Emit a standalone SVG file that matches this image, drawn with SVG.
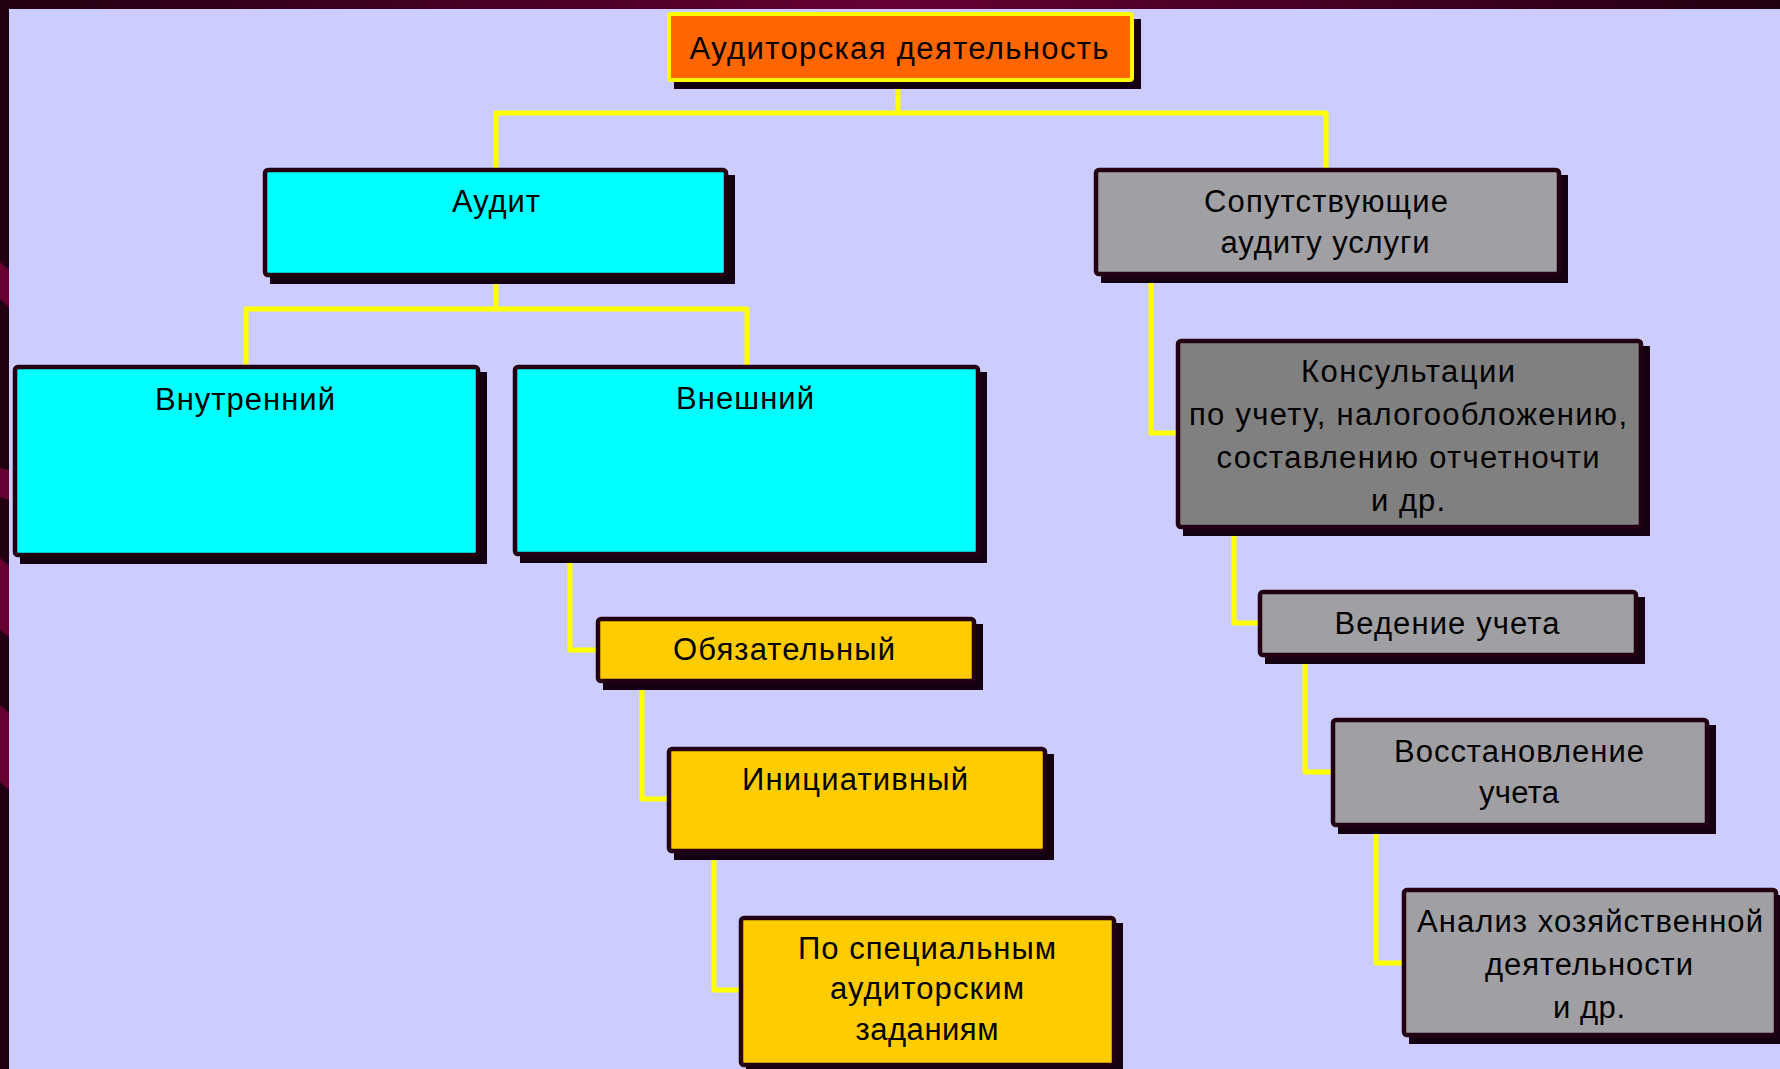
<svg xmlns="http://www.w3.org/2000/svg" width="1780" height="1069" viewBox="0 0 1780 1069">
<defs>
<linearGradient id="topbar" x1="0" y1="0" x2="1" y2="0">
<stop offset="0" stop-color="#220011"/>
<stop offset="0.5" stop-color="#660033"/>
<stop offset="1" stop-color="#220011"/>
</linearGradient>
<style>
.bg{fill:#CCCCFF}
.sh{fill:#140010}
.box{stroke:#220011;stroke-width:4.5;stroke-linejoin:round}
.cyan{fill:#00FFFF}
.gold{fill:#FFCC00}
.gray{fill:#A0A0A4}
.dgray{fill:#808080}
.top{fill:#FF6600;stroke:#FFFF00;stroke-width:4}
.conn{fill:none;stroke:#FFFF00;stroke-width:5;stroke-linejoin:round}
text{font-family:"Liberation Sans Narrow","Liberation Sans",Arial,sans-serif;font-size:31px;fill:#000;text-anchor:middle}
</style>
</defs>
<rect x="0" y="0" width="1780" height="1069" class="bg"/>
<rect x="0" y="0" width="1780" height="9" fill="url(#topbar)"/>
<rect x="0" y="0" width="9" height="1069" fill="#220011"/>
<polygon points="0,262 9,270 9,307 0,299" fill="#660033"/>
<polygon points="0,468 9,470 9,500 0,497" fill="#660033"/>
<polygon points="0,558 9,566 9,637 0,630" fill="#660033"/>
<polygon points="0,705 9,713 9,790 0,782" fill="#660033"/>

<g id="connectors">
<path class="conn" d="M898,88 V113 M496,168 V113 H1326 V168"/>
<path class="conn" d="M496,284 V309 M246,365 V309 H747 V365"/>
<path class="conn" d="M570,556 V650 H596"/>
<path class="conn" d="M642,683 V799 H667"/>
<path class="conn" d="M714,853 V990 H739"/>
<path class="conn" d="M1151,276 V433 H1176"/>
<path class="conn" d="M1234,529 V623 H1258"/>
<path class="conn" d="M1305,657 V772 H1331"/>
<path class="conn" d="M1376,827 V963 H1402"/>
</g>

<g id="node-top">
<rect class="sh" x="674" y="19" width="467" height="70"/>
<rect class="top" x="669" y="14" width="463" height="66" rx="2"/>
<text x="899" y="59" textLength="419">Аудиторская деятельность</text>
</g>

<g id="node-audit">
<rect class="sh" x="270" y="175" width="465" height="109"/>
<rect class="box cyan" x="265" y="170" width="461" height="105" rx="3"/>
<text x="496" y="212" textLength="88">Аудит</text>
</g>

<g id="node-related">
<rect class="sh" x="1101" y="175" width="467" height="108"/>
<rect class="box gray" x="1096" y="170" width="463" height="104" rx="3"/>
<text x="1326" y="212" textLength="244">Сопутствующие</text>
<text x="1325" y="253" textLength="209">аудиту услуги</text>
</g>

<g id="node-internal">
<rect class="sh" x="20" y="372" width="467" height="192"/>
<rect class="box cyan" x="15" y="367" width="463" height="188" rx="3"/>
<text x="245" y="410" textLength="180">Внутренний</text>
</g>

<g id="node-external">
<rect class="sh" x="520" y="372" width="467" height="191"/>
<rect class="box cyan" x="515" y="367" width="463" height="187" rx="3"/>
<text x="745" y="409" textLength="138">Внешний</text>
</g>

<g id="node-mandatory">
<rect class="sh" x="603" y="624" width="380" height="66"/>
<rect class="box gold" x="598" y="619" width="376" height="62" rx="3"/>
<text x="784" y="660" textLength="222">Обязательный</text>
</g>

<g id="node-initiative">
<rect class="sh" x="674" y="754" width="380" height="106"/>
<rect class="box gold" x="669" y="749" width="376" height="102" rx="3"/>
<text x="855" y="790" textLength="226">Инициативный</text>
</g>

<g id="node-special">
<rect class="sh" x="746" y="923" width="377" height="151"/>
<rect class="box gold" x="741" y="918" width="373" height="147" rx="3"/>
<text x="927" y="959" textLength="258">По специальным</text>
<text x="927" y="999" textLength="194">аудиторским</text>
<text x="927" y="1040" textLength="143">заданиям</text>
</g>

<g id="node-consult">
<rect class="sh" x="1183" y="346" width="467" height="190"/>
<rect class="box dgray" x="1178" y="341" width="463" height="186" rx="3"/>
<text x="1408" y="382" textLength="214">Консультации</text>
<text x="1408" y="425" textLength="438">по учету, налогообложению,</text>
<text x="1408" y="468" textLength="383">составлению отчетночти</text>
<text x="1408" y="511" textLength="74">и др.</text>
</g>

<g id="node-bookkeeping">
<rect class="sh" x="1265" y="597" width="380" height="67"/>
<rect class="box gray" x="1260" y="592" width="376" height="63" rx="3"/>
<text x="1447" y="634" textLength="225">Ведение учета</text>
</g>

<g id="node-restore">
<rect class="sh" x="1338" y="725" width="378" height="109"/>
<rect class="box gray" x="1333" y="720" width="374" height="105" rx="3"/>
<text x="1519" y="762" textLength="250">Восстановление</text>
<text x="1519" y="803" textLength="80">учета</text>
</g>

<g id="node-analysis">
<rect class="sh" x="1409" y="895" width="376" height="149"/>
<rect class="box gray" x="1404" y="890" width="372" height="145" rx="3"/>
<text x="1590" y="932" textLength="346">Анализ хозяйственной</text>
<text x="1589" y="975" textLength="208">деятельности</text>
<text x="1589" y="1018" textLength="72">и др.</text>
</g>
</svg>
